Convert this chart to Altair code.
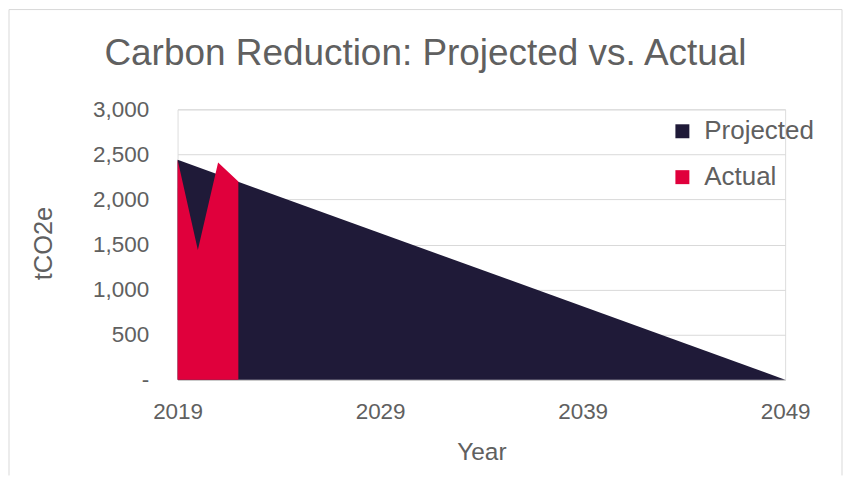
import altair as alt
import pandas as pd

TITLE = "Carbon Reduction: Projected vs. Actual"
series = ["Projected", "Actual"]
colors = ["#1F1A38", "#E0003C"]

proj_years = [2019, 2049]
proj_vals = [2440, 0]
act_years = [2019, 2020, 2021, 2022]
act_vals = [2440, 1440, 2410, 2200]

x_ticks = [2019, 2029, 2039, 2049]
y_ticks = [0, 500, 1000, 1500, 2000, 2500, 3000]

FONT = "Liberation Sans"
GREY = "#606060"

df = pd.concat([
    pd.DataFrame({"Year": proj_years, "Value": proj_vals, "Series": "Projected"}),
    pd.DataFrame({"Year": act_years, "Value": act_vals, "Series": "Actual"}),
], ignore_index=True)

W, H = 609, 271

base = alt.Chart(df).mark_area(opacity=1).encode(
    x=alt.X("Year:Q",
            scale=alt.Scale(domain=[2019, 2049], nice=False, zero=False),
            axis=alt.Axis(values=x_ticks, format="d", grid=False, ticks=False,
                          domainColor="#BFBFBF", domainWidth=1,
                          labelFontSize=22.5, labelColor=GREY, labelFont=FONT,
                          labelPadding=21, labelOverlap=False, labelFlush=False,
                          title="Year", titleFontSize=24.5, titleColor=GREY,
                          titleFont=FONT, titleFontWeight="normal",
                          titleBaseline="alphabetic", titleX=W / 2, titleY=80)),
    y=alt.Y("Value:Q", stack=None,
            scale=alt.Scale(domain=[0, 3000], nice=False),
            axis=alt.Axis(values=y_ticks, domain=False, ticks=False,
                          labelExpr="datum.value == 0 ? '-\u00a0\u00a0' : format(datum.value, ',')",
                          gridColor="#D9D9D9", gridWidth=1,
                          labelFontSize=22.5, labelColor=GREY, labelFont=FONT,
                          labelPadding=29,
                          title="tCO2e", titleFontSize=25.5, titleColor=GREY,
                          titleFont=FONT, titleFontWeight="normal",
                          titleAngle=-90, titleBaseline="middle",
                          titleX=-134, titleY=134)),
    color=alt.Color("Series:N",
                    scale=alt.Scale(domain=series, range=colors),
                    legend=alt.Legend(title=None, orient="none",
                                      legendX=493, legendY=9,
                                      symbolType="square", symbolSize=196,
                                      symbolStrokeWidth=0, symbolOpacity=1,
                                      labelFontSize=26, labelColor=GREY,
                                      labelFont=FONT, labelOffset=9,
                                      rowPadding=20, padding=0)),
)

proj = base.transform_filter(alt.datum.Series == "Projected")
act = base.transform_filter(alt.datum.Series == "Actual")

one = pd.DataFrame({"k": [0]})
frame_col = "#D9D9D9"
left_line = alt.Chart(one).mark_rule(color=frame_col, strokeWidth=1).encode(
    x=alt.value(-169), y=alt.value(-100), y2=alt.value(367))
right_line = alt.Chart(one).mark_rule(color=frame_col, strokeWidth=1).encode(
    x=alt.value(666), y=alt.value(-100), y2=alt.value(367))
top_line = alt.Chart(one).mark_rule(color=frame_col, strokeWidth=1).encode(
    x=alt.value(-169), x2=alt.value(666), y=alt.value(-100))

title = alt.Chart(pd.DataFrame({"t": [TITLE]})).mark_text(
    font=FONT, fontSize=37, color=GREY, align="center", baseline="alphabetic"
).encode(text="t:N", x=alt.value(248.5), y=alt.value(-44.5))

chart = alt.layer(proj, act, left_line, right_line, top_line, title).properties(
    width=W, height=H, padding=0
).configure_view(stroke=None).configure(background="white")

chart.save("out.html", embed_options={"renderer": "svg", "actions": False})
